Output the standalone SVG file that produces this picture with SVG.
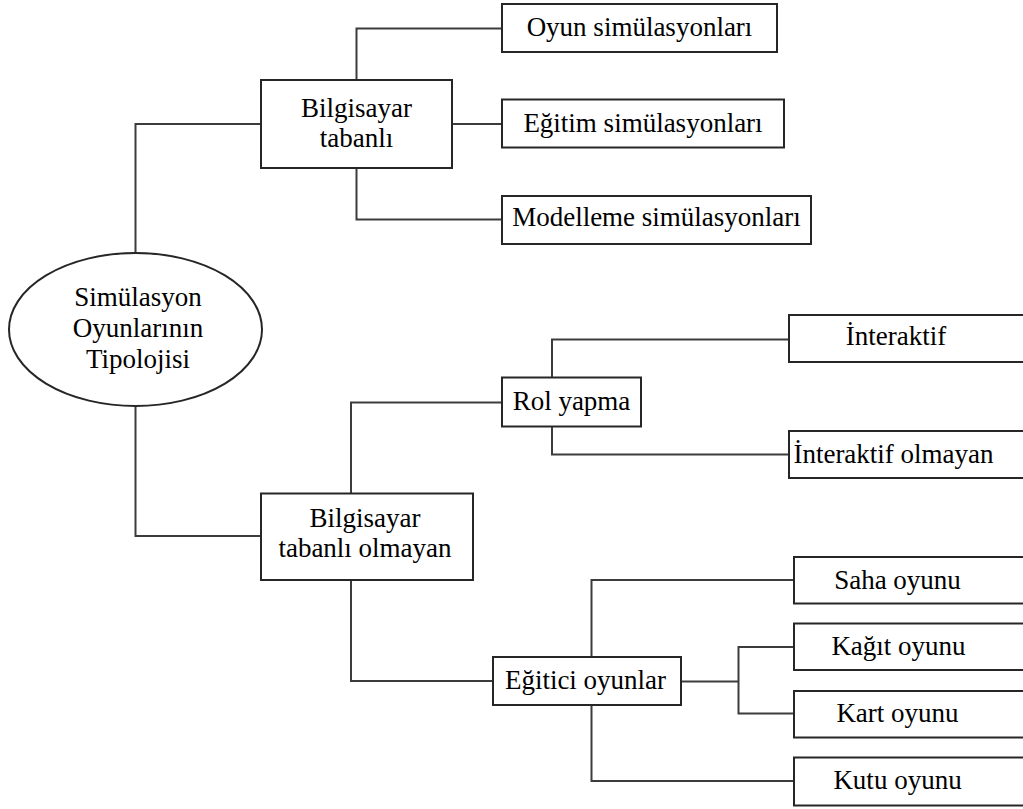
<svg xmlns="http://www.w3.org/2000/svg" width="1023" height="809" viewBox="0 0 1023 809">
  <style>
    .box { fill: #ffffff; stroke: #262626; stroke-width: 2; }
    .wire { fill: none; stroke: #3c3c3c; stroke-width: 2; }
  </style>
  <rect width="1023" height="809" fill="#ffffff"/>
  <g id="connectors">
    <path class="wire" d="M135.5 253 V124 H261"/>
    <path class="wire" d="M135.5 406 V536 H261"/>
    <path class="wire" d="M356.5 80 V28.5 H502"/>
    <path class="wire" d="M452 124 H502"/>
    <path class="wire" d="M356.5 168 V219.5 H502"/>
    <path class="wire" d="M351 493 V402.5 H502"/>
    <path class="wire" d="M351 580 V681 H493"/>
    <path class="wire" d="M552 377 V339.5 H789"/>
    <path class="wire" d="M552 427 V454.5 H789"/>
    <path class="wire" d="M591.5 657 V580 H794"/>
    <path class="wire" d="M591.5 705 V781 H794"/>
    <path class="wire" d="M681 681.5 H738.5"/>
    <path class="wire" d="M794 647 H738.5 V713.5 H794"/>
  </g>
  <g id="root">
    <ellipse class="box" cx="135.5" cy="329.5" rx="126.5" ry="76.5"/>
    <text x="138" y="306" style="font-family:'Liberation Serif',serif;font-size:27px;text-anchor:middle;fill:#000">Simülasyon</text>
    <text x="138" y="337" style="font-family:'Liberation Serif',serif;font-size:27px;text-anchor:middle;fill:#000">Oyunlarının</text>
    <text x="138" y="368" style="font-family:'Liberation Serif',serif;font-size:27px;text-anchor:middle;fill:#000">Tipolojisi</text>
  </g>
  <g id="bilgisayar-tabanli">
    <rect class="box" x="261" y="80" width="191" height="88"/>
    <text x="356.5" y="117" style="font-family:'Liberation Serif',serif;font-size:27px;text-anchor:middle;fill:#000">Bilgisayar</text>
    <text x="356.5" y="147" style="font-family:'Liberation Serif',serif;font-size:27px;text-anchor:middle;fill:#000">tabanlı</text>
  </g>
  <g id="oyun-sim">
    <rect class="box" x="502" y="4" width="275" height="48"/>
    <text x="639.5" y="36" style="font-family:'Liberation Serif',serif;font-size:27px;text-anchor:middle;fill:#000">Oyun simülasyonları</text>
  </g>
  <g id="egitim-sim">
    <rect class="box" x="502" y="99.5" width="282" height="48"/>
    <text x="643" y="132" style="font-family:'Liberation Serif',serif;font-size:27px;text-anchor:middle;fill:#000">Eğitim simülasyonları</text>
  </g>
  <g id="modelleme-sim">
    <rect class="box" x="502" y="196" width="309" height="48"/>
    <text x="656.5" y="226" style="font-family:'Liberation Serif',serif;font-size:27px;text-anchor:middle;fill:#000">Modelleme simülasyonları</text>
  </g>
  <g id="bilgisayar-tabanli-olmayan">
    <rect class="box" x="261" y="493.5" width="212" height="86.5"/>
    <text x="365" y="527" style="font-family:'Liberation Serif',serif;font-size:27px;text-anchor:middle;fill:#000">Bilgisayar</text>
    <text x="365" y="557" style="font-family:'Liberation Serif',serif;font-size:27px;text-anchor:middle;fill:#000">tabanlı olmayan</text>
  </g>
  <g id="rol-yapma">
    <rect class="box" x="502" y="377.5" width="139" height="49"/>
    <text x="571.5" y="410" style="font-family:'Liberation Serif',serif;font-size:27px;text-anchor:middle;fill:#000">Rol yapma</text>
  </g>
  <g id="interaktif">
    <rect class="box" x="789" y="315" width="250" height="47"/>
    <text x="896" y="345" style="font-family:'Liberation Serif',serif;font-size:27px;text-anchor:middle;fill:#000">İnteraktif</text>
  </g>
  <g id="interaktif-olmayan">
    <rect class="box" x="789" y="431" width="250" height="47"/>
    <text x="893.5" y="463" style="font-family:'Liberation Serif',serif;font-size:27px;text-anchor:middle;fill:#000">İnteraktif olmayan</text>
  </g>
  <g id="egitici-oyunlar">
    <rect class="box" x="493" y="657" width="188" height="48"/>
    <text x="585.5" y="688.5" style="font-family:'Liberation Serif',serif;font-size:27px;text-anchor:middle;fill:#000">Eğitici oyunlar</text>
  </g>
  <g id="saha-oyunu">
    <rect class="box" x="794" y="557" width="250" height="46.5"/>
    <text x="897.5" y="588.5" style="font-family:'Liberation Serif',serif;font-size:27px;text-anchor:middle;fill:#000">Saha oyunu</text>
  </g>
  <g id="kagit-oyunu">
    <rect class="box" x="794" y="623.5" width="250" height="46.5"/>
    <text x="898.5" y="655" style="font-family:'Liberation Serif',serif;font-size:27px;text-anchor:middle;fill:#000">Kağıt oyunu</text>
  </g>
  <g id="kart-oyunu">
    <rect class="box" x="794" y="691" width="250" height="46.5"/>
    <text x="897.5" y="722" style="font-family:'Liberation Serif',serif;font-size:27px;text-anchor:middle;fill:#000">Kart oyunu</text>
  </g>
  <g id="kutu-oyunu">
    <rect class="box" x="794" y="757.5" width="250" height="48"/>
    <text x="897.5" y="788.5" style="font-family:'Liberation Serif',serif;font-size:27px;text-anchor:middle;fill:#000">Kutu oyunu</text>
  </g>
</svg>
